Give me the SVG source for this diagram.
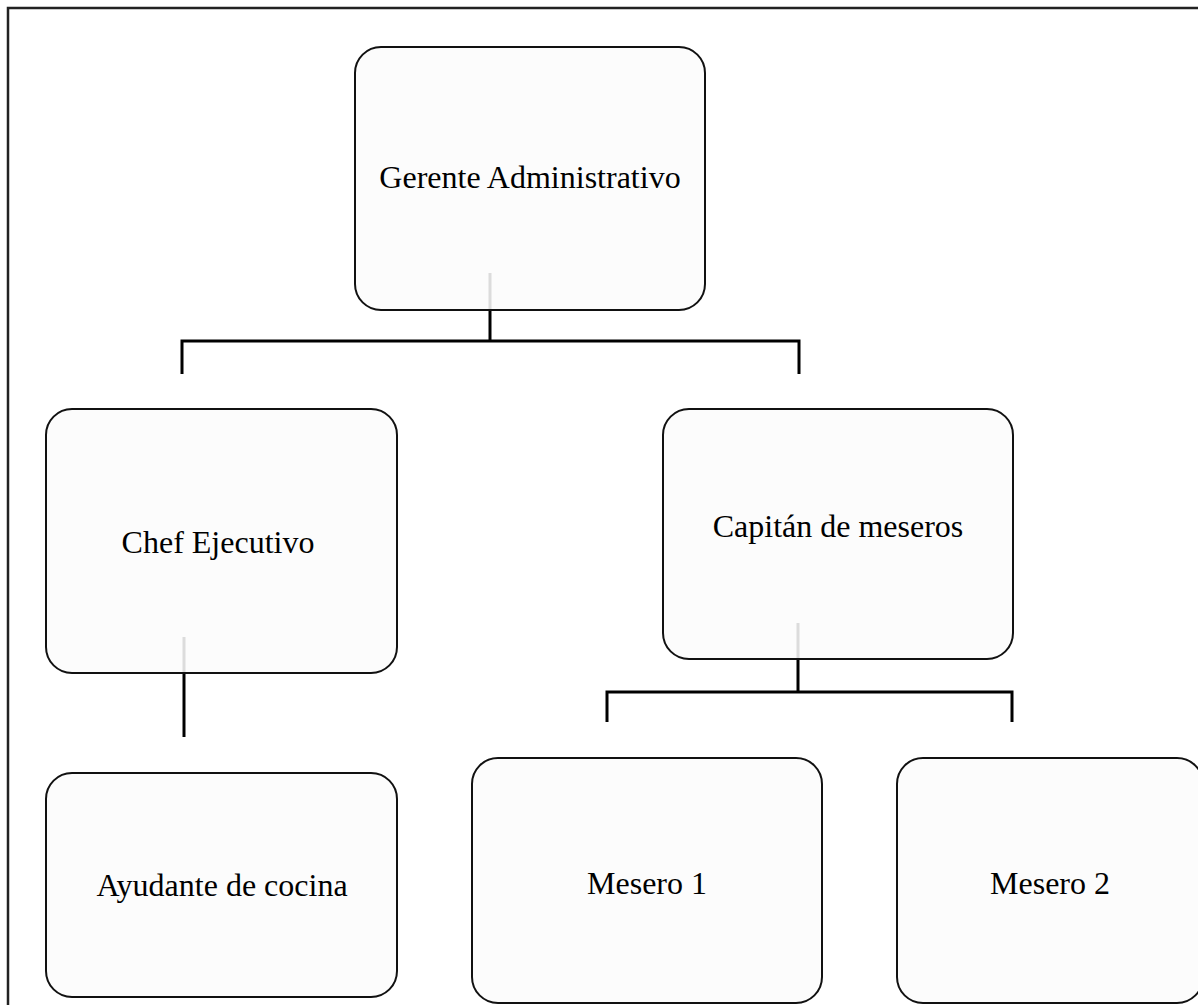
<svg xmlns="http://www.w3.org/2000/svg" width="1198" height="1005" viewBox="0 0 1198 1005">
<style>
.box{fill:#fcfcfc;stroke:#111;stroke-width:2}
.lbl{font-family:"Liberation Serif","Times New Roman",serif;font-size:32px;fill:#000;text-anchor:middle}
.con{stroke:#000;stroke-width:3;fill:none}
.ghost{stroke:#dcdcdc;stroke-width:3;fill:none}
</style>
<rect width="1198" height="1005" fill="#fff"/>
<rect x="8" y="8" width="1200" height="1010" fill="none" stroke="#222" stroke-width="2.5"/>
<g id="gerente">
<rect class="box" x="355" y="47" width="350" height="263" rx="26"/>
<text class="lbl" x="530" y="188">Gerente Administrativo</text>
</g>
<g id="chef">
<rect class="box" x="46" y="409" width="351" height="264" rx="26"/>
<text class="lbl" x="218" y="553">Chef Ejecutivo</text>
</g>
<g id="capitan">
<rect class="box" x="663" y="409" width="350" height="250" rx="26"/>
<text class="lbl" x="838" y="537">Capitán de meseros</text>
</g>
<g id="ayudante">
<rect class="box" x="46" y="773" width="351" height="224" rx="26"/>
<text class="lbl" x="222" y="896">Ayudante de cocina</text>
</g>
<g id="mesero1">
<rect class="box" x="472" y="758" width="350" height="245" rx="26"/>
<text class="lbl" x="647" y="894">Mesero 1</text>
</g>
<g id="mesero2">
<rect class="box" x="897" y="758" width="306" height="245" rx="26"/>
<text class="lbl" x="1050" y="894">Mesero 2</text>
</g>
<g id="connectors">
<line class="ghost" x1="490" y1="273" x2="490" y2="309"/>
<line class="ghost" x1="184" y1="637" x2="184" y2="672"/>
<line class="ghost" x1="798" y1="623" x2="798" y2="658"/>
<path class="con" d="M490 311 V341"/>
<path class="con" d="M182 374 V341 H799 V374" stroke-width="2.5"/>
<path class="con" d="M184 674 V737"/>
<path class="con" d="M798 660 V692"/>
<path class="con" d="M607 722 V692 H1012 V722" stroke-width="2.5"/>
</g>
</svg>
